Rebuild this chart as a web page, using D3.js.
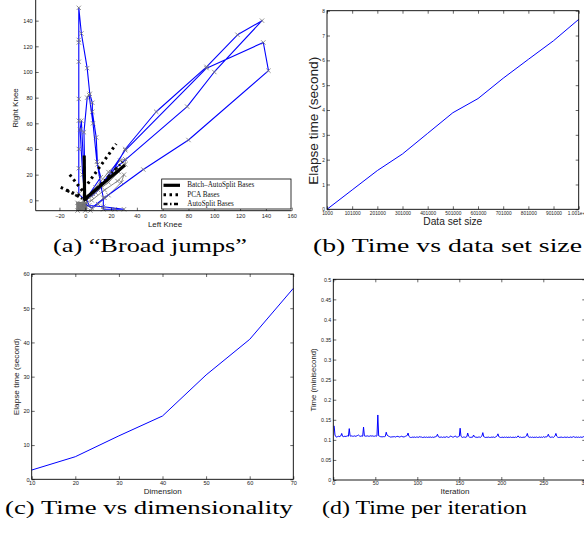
<!DOCTYPE html>
<html><head><meta charset="utf-8">
<script src="https://cdn.jsdelivr.net/npm/d3@7"></script>
<style>body{margin:0;background:#fff}svg{display:block}</style>
</head><body>
<svg id="c" width="584" height="533"></svg>
<script>
// ---------- DATA ----------
// (a) Broad jumps: blue trajectory (Left Knee, Right Knee)
const jumpPath = [
[0,0],[-5,5],[-5,25],[-5,40],[-5,62],[-5,79],[-5,108],[-5,123],[-5,125],[-5,150],[-3,130],[1.5,103],[3.5,83],[5.5,76],[5.5,69],[8.5,49],[9.5,28],[12,12],[14,2],[14,-7],[23,-7],[30,-7],[14,-5],[3,-4],
[0,3],[-1,53],[1.5,80],[3,82],[6,60],[9,30],[12,18],[0,0],
[-3,62],[-4,55],[-2,20],[0,0],
[6,5],[20,20],[31,40],[55,69],[94,104],[118,129],[137,140],[100,100],[79,73],[20,22],[5,3],
[10,8],[31,39],[94,103],[138,123],[142,101],[80,47],[45,24],[15,2],[5,-6],[0,-3]
];
// (a) gray reconstructed trajectory near origin
const grayPath = [
[0,0],[8,6],[18,14],[26,22],[31,28],[31,32],[27,31],[18,22],[8,10],[0,2],[-4,-3],[5,0],[15,8],[25,15],[30,20],[28,14],[18,4],[10,-3],[4,-8],[-6,-8],[-6,-2],[-2,-6],[0,-8],[-5,-5],[0,0]
];
const grayBlob = [[-7,-8],[1.5,-8],[1.5,-1.5],[-7,-1.2]];
const batchBases = [[[-0.8,35],[-0.5,0]], [[-1.5,0],[30.8,27.5]]];
const pcaBases = [[[-12,20],[-1,6]], [[2,13],[24,44]], [[-19,10],[-3,3]]];
const autoBases = [[[-15,8],[0,0]], [[0,0],[29,30]]];
const legendNames = ["Batch\u2013AutoSplit Bases", "PCA Bases", "AutoSplit Bases"];
const aXTicks = [-20,0,20,40,60,80,100,120,140,160];
const aYTicks = [0,20,40,60,80,100,120,140];

// (b) Time vs data set size
const sizeX = [1000,101000,201000,301000,401000,501000,601000,701000,801000,901000,1001000];
const sizeY = [0,0.78,1.56,2.23,3.06,3.89,4.46,5.28,6.04,6.79,7.65];
const bYTicks = [0,1,2,3,4,5,6,7,8];

// (c) Time vs dimensionality
const dimX = [10,20,30,40,50,60,70];
const dimY = [2.7,6.6,12.7,18.5,30.5,40.9,55.8];
const cXTicks = [10,20,30,40,50,60,70];
const cYTicks = [0,10,20,30,40,50,60];

// (d) Time per iteration (iterations 1..300)
const iterTime = [
0.135,0.112,0.108,0.107,0.108,0.109,0.108,0.109,0.110,0.116,
0.109,0.108,0.109,0.108,0.109,0.109,0.110,0.109,0.128,0.110,
0.109,0.110,0.109,0.109,0.110,0.109,0.109,0.110,0.111,0.112,
0.110,0.109,0.109,0.110,0.109,0.132,0.110,0.109,0.110,0.109,
0.110,0.109,0.109,0.110,0.110,0.109,0.110,0.109,0.109,0.110,
0.109,0.110,0.162,0.110,0.109,0.108,0.108,0.107,0.108,0.108,
0.108,0.109,0.119,0.112,0.110,0.109,0.108,0.107,0.107,0.108,
0.107,0.108,0.108,0.107,0.108,0.109,0.108,0.108,0.107,0.108,
0.109,0.108,0.108,0.107,0.108,0.109,0.110,0.111,0.117,0.109,
0.107,0.106,0.106,0.107,0.106,0.107,0.107,0.106,0.107,0.107,
0.106,0.107,0.108,0.107,0.107,0.106,0.106,0.107,0.107,0.106,
0.107,0.106,0.107,0.106,0.107,0.107,0.106,0.107,0.106,0.107,
0.107,0.108,0.109,0.114,0.108,0.107,0.106,0.107,0.107,0.106,
0.107,0.107,0.106,0.107,0.108,0.107,0.106,0.107,0.108,0.110,
0.108,0.107,0.107,0.108,0.110,0.108,0.107,0.107,0.108,0.109,
0.129,0.109,0.107,0.106,0.107,0.107,0.106,0.107,0.108,0.117,
0.109,0.107,0.106,0.107,0.106,0.107,0.112,0.108,0.107,0.106,
0.107,0.106,0.107,0.107,0.106,0.108,0.110,0.118,0.108,0.107,
0.106,0.106,0.107,0.106,0.107,0.106,0.106,0.107,0.106,0.107,
0.107,0.106,0.107,0.108,0.110,0.115,0.108,0.107,0.106,0.106,
0.107,0.106,0.106,0.107,0.106,0.107,0.106,0.106,0.107,0.106,
0.107,0.106,0.106,0.107,0.106,0.106,0.107,0.106,0.107,0.110,
0.107,0.106,0.107,0.106,0.106,0.107,0.106,0.107,0.108,0.110,
0.116,0.108,0.107,0.106,0.107,0.106,0.107,0.106,0.106,0.107,
0.106,0.107,0.106,0.106,0.107,0.107,0.106,0.107,0.106,0.108,
0.107,0.106,0.108,0.107,0.110,0.114,0.108,0.107,0.106,0.107,
0.107,0.106,0.108,0.110,0.116,0.109,0.107,0.106,0.106,0.107,
0.106,0.107,0.106,0.106,0.107,0.106,0.107,0.106,0.107,0.106,
0.106,0.107,0.107,0.106,0.107,0.108,0.107,0.106,0.107,0.107,
0.106,0.107,0.106,0.107,0.107,0.106,0.107,0.108,0.107,0.108
];
const dXTicks = [0,50,100,150,200,250,300];
const dYTicks = [0,0.05,0.1,0.15,0.2,0.25,0.3,0.35,0.4,0.45,0.5];

const captions = ["(a) \u201cBroad jumps\u201d","(b) Time vs data set size","(c) Time vs dimensionality","(d) Time per iteration"];

// ---------- DRAW ----------
const svg = d3.select("#c");
const SANS = "Liberation Sans, Arial, sans-serif";
const SERIF = "Liberation Serif, Times New Roman, serif";
const BLUE = "#0000ff";

function styleAxis(g, fs){
  g.attr("font-family", SANS).attr("font-size", fs);
  g.select(".domain").remove();
  g.selectAll("line").attr("stroke","#000").attr("stroke-width",0.6);
  g.selectAll("text").attr("fill","#222");
}
function boxAxes(x, y, xt, yt, xf, yf, fs, pad){
  const [x0,x1] = x.range(), [y0,y1] = y.range();
  const g = svg.append("g");
  g.append("g").attr("transform",`translate(0,${y0})`)
    .call(d3.axisBottom(x).tickValues(xt).tickSize(-3).tickPadding(pad).tickFormat(xf)).call(s=>styleAxis(s,fs));
  g.append("g").attr("transform",`translate(0,${y1})`)
    .call(d3.axisTop(x).tickValues(xt).tickSize(-3).tickFormat(()=>"")).call(s=>styleAxis(s,fs));
  g.append("g").attr("transform",`translate(${x0},0)`)
    .call(d3.axisLeft(y).tickValues(yt).tickSize(-3).tickPadding(1.5+0.5).tickFormat(yf)).call(s=>styleAxis(s,fs));
  g.append("g").attr("transform",`translate(${x1},0)`)
    .call(d3.axisRight(y).tickValues(yt).tickSize(-3).tickFormat(()=>"")).call(s=>styleAxis(s,fs));
  g.append("rect").attr("x",x0).attr("y",y1).attr("width",x1-x0).attr("height",y0-y1)
    .attr("fill","none").attr("stroke","#000").attr("stroke-width",0.9);
}
function label(txt, x, y, fs, rot, len){
  const t = svg.append("text").attr("font-family",SANS).attr("font-size",fs).attr("fill","#222")
    .attr("text-anchor","middle").attr("dominant-baseline","central")
    .attr("transform",`translate(${x},${y}) rotate(${rot||0})`).text(txt);
  if(len) t.attr("textLength",len).attr("lengthAdjust","spacingAndGlyphs");
}

// ===== (a) =====
{
  const x = d3.scaleLinear().domain([-38.4,160]).range([35.7,291.7]);
  const y = d3.scaleLinear().domain([-8.1,156.1]).range([210.7,0]);
  const line = d3.line().x(d=>x(d[0])).y(d=>y(d[1]));
  const g = svg.append("g");
  g.append("path").attr("d", line(grayBlob)+"Z").attr("fill","#707070");
  g.append("path").attr("d", line(grayPath)).attr("fill","none").attr("stroke","#7a7a7a").attr("stroke-width",0.9);
  g.append("path").attr("d", line(jumpPath)).attr("fill","none").attr("stroke",BLUE).attr("stroke-width",1.1).attr("stroke-linejoin","round");
  const mk = d3.symbol().type(d3.symbolX).size(14);
  g.selectAll(".mk").data(jumpPath.concat(grayPath)).join("path")
    .attr("transform",d=>`translate(${x(d[0])},${y(d[1])})`).attr("d",mk())
    .attr("fill","none").attr("stroke","#777").attr("stroke-width",0.8);
  g.selectAll(".au").data(autoBases).join("path").attr("d",line).attr("fill","none")
    .attr("stroke","#111").attr("stroke-width",2.5).attr("stroke-dasharray","4,2.5,1.5,2.5");
  g.selectAll(".pc").data(pcaBases).join("path").attr("d",line).attr("fill","none")
    .attr("stroke","#000").attr("stroke-width",3).attr("stroke-dasharray","2.5,3.5");
  g.selectAll(".ba").data(batchBases).join("path").attr("d",line).attr("fill","none")
    .attr("stroke","#000").attr("stroke-width",3.2);
  g.append("g").attr("transform",`translate(0,210.7)`)
    .call(d3.axisBottom(x).tickValues(aXTicks).tickSize(-3).tickPadding(3)).call(s=>styleAxis(s,5.6));
  g.append("g").attr("transform",`translate(35.7,0)`)
    .call(d3.axisLeft(y).tickValues(aYTicks).tickSize(-3).tickPadding(3)).call(s=>styleAxis(s,5.6));
  g.append("line").attr("x1",35.7).attr("x2",291.7).attr("y1",210.7).attr("y2",210.7).attr("stroke","#000").attr("stroke-width",0.9);
  g.append("line").attr("x1",35.7).attr("x2",35.7).attr("y1",0).attr("y2",210.7).attr("stroke","#000").attr("stroke-width",0.9);
  const lg = g.append("g");
  lg.append("rect").attr("x",161.7).attr("y",179).attr("width",129.3).attr("height",30)
    .attr("fill","#fff").attr("stroke","#000").attr("stroke-width",0.8);
  const styles = [
    {w:3.2, da:null},
    {w:3, da:"2.5,3.5"},
    {w:2.5, da:"4,2.5,1.5,2.5"}
  ];
  const ly = [185.3,194.8,204];
  legendNames.forEach((n,i)=>{
    const l = lg.append("line").attr("x1",163.5).attr("x2",180).attr("y1",ly[i]).attr("y2",ly[i])
      .attr("stroke","#000").attr("stroke-width",styles[i].w);
    if(styles[i].da) l.attr("stroke-dasharray",styles[i].da);
    lg.append("text").attr("x",187.3).attr("y",ly[i]).attr("dominant-baseline","central")
      .attr("font-family",SERIF).attr("font-size",7.2).attr("fill","#111").text(n);
  });
  label("Left Knee", 165, 224.3, 8);
  label("Right Knee", 15.7, 108, 8, -90);
}

// ===== (b) =====
{
  const x = d3.scaleLinear().domain([1000,1001000]).range([327,578.7]);
  const y = d3.scaleLinear().domain([0,8]).range([209.3,10.7]);
  svg.append("path").datum(d3.zip(sizeX,sizeY))
    .attr("d", d3.line().x(d=>x(d[0])).y(d=>y(d[1])))
    .attr("fill","none").attr("stroke",BLUE).attr("stroke-width",1);
  boxAxes(x,y,sizeX,bYTicks,d=>d===1001000?"1.001e+06":String(d),d=>String(d),4.8,2.3);
  label("Data set size", 452.8, 221, 10.5, 0, 59);
  label("Elapse time (second)", 314, 120.8, 12.5, -90, 128);
}

// ===== (c) =====
{
  const x = d3.scaleLinear().domain([10,70]).range([31.7,293.3]);
  const y = d3.scaleLinear().domain([0,60]).range([479.3,274]);
  svg.append("path").datum(d3.zip(dimX,dimY))
    .attr("d", d3.line().x(d=>x(d[0])).y(d=>y(d[1])))
    .attr("fill","none").attr("stroke",BLUE).attr("stroke-width",1);
  boxAxes(x,y,cXTicks,cYTicks,d=>String(d),d=>String(d),5.6,1.5);
  label("Dimension", 162.7, 491.8, 8);
  label("Elapse time (second)", 16.7, 376.7, 8, -90, 77);
}

// ===== (d) =====
{
  const x = d3.scaleLinear().domain([0,300]).range([333.3,585.3]);
  const y = d3.scaleLinear().domain([0,0.5]).range([480,279.3]);
  svg.append("path").datum(iterTime)
    .attr("d", d3.line().x((d,i)=>x(i+1)).y(d=>y(d)))
    .attr("fill","none").attr("stroke",BLUE).attr("stroke-width",1);
  boxAxes(x,y,dXTicks,dYTicks,d=>String(d),d=>String(+d.toFixed(2)),5.3,1.5);
  label("Iteration", 455, 491.8, 8);
  label("Time (minisecond)", 313, 380, 7.5, -90, 63);
}

// ===== captions =====
const capPos = [[53,251.5,194],[313,251.5,269],[5,513.5,288],[322,513.5,205]];
captions.forEach((c,i)=>{
  svg.append("text").attr("x",capPos[i][0]).attr("y",capPos[i][1])
    .attr("font-family",SERIF).attr("font-size",18.5).attr("fill","#000")
    .attr("textLength",capPos[i][2]).attr("lengthAdjust","spacingAndGlyphs").text(c);
});
</script>
</body></html>
